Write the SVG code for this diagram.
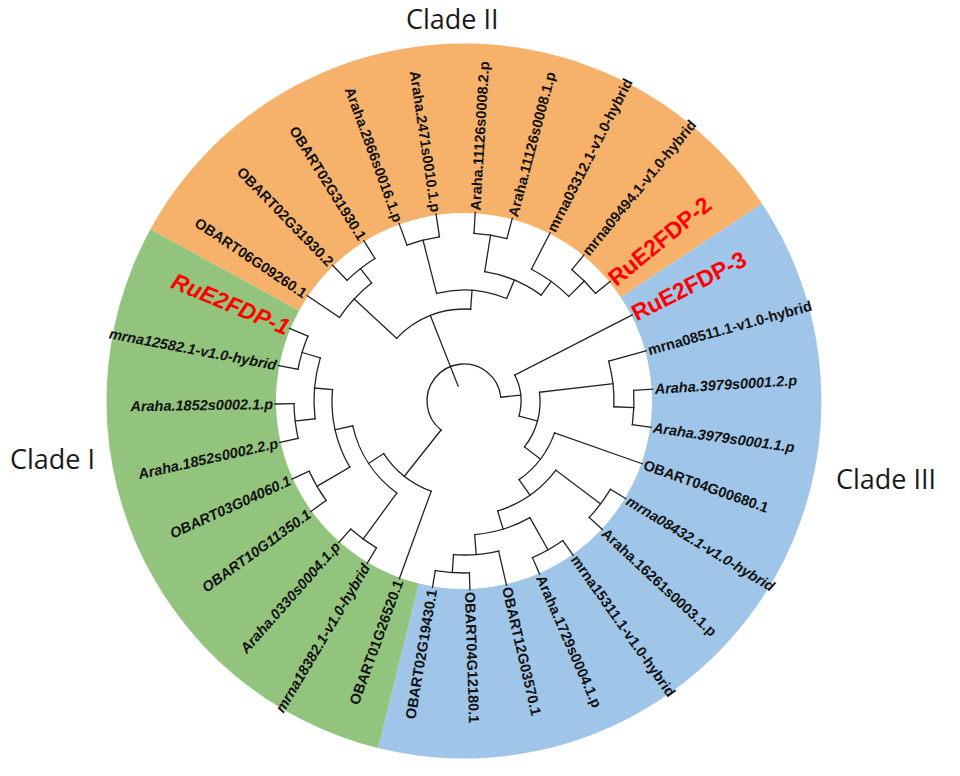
<svg xmlns="http://www.w3.org/2000/svg" width="960" height="776" viewBox="0 0 960 776">
<style>
.s1{fill:#93c47d}.s2{fill:#f6b26b}.s3{fill:#9fc5e8}
.br{fill:none;stroke:#222;stroke-width:1.3;stroke-linecap:square}
.lb{font-family:"Liberation Sans",Arial,sans-serif;font-size:14.5px;font-weight:bold;fill:#111}
.bi{font-style:italic}
.red{font-size:23px;font-weight:bold;fill:#ff0000}
.clade{font-family:"Open Sans","Liberation Sans",sans-serif;font-size:27px;fill:#1a1a1a}
</style>
<rect width="960" height="776" fill="#fff"/>
<g id="sectors">
<path id="sector-clade2" class="s2" d="M299.1 310.7L150.4 229.3A357.5 357.5 0 0 1 762.1 203.7L620.8 297.2A188 188 0 0 0 299.1 310.7Z"/>
<path id="sector-clade3" class="s3" d="M620.8 297.2L762.1 203.7A357.5 357.5 0 0 1 378.1 748.0L418.8 583.5A188 188 0 0 0 620.8 297.2Z"/>
<path id="sector-clade1" class="s1" d="M418.8 583.5L378.1 748.0A357.5 357.5 0 0 1 150.4 229.3L299.1 310.7A188 188 0 0 0 418.8 583.5Z"/>
</g>
<g id="connectors" class="br" transform="translate(464 401)">
<circle r="37" pathLength="360" stroke-dasharray="225.7 400" transform="rotate(128.4)"/>
<circle r="96" pathLength="360" stroke-dasharray="36.8 400" transform="rotate(110)"/>
<circle r="114" pathLength="360" stroke-dasharray="41.25 400" transform="rotate(126.15)"/>
<circle r="132" pathLength="360" stroke-dasharray="35.05 400" transform="rotate(149.9)"/>
<circle r="150" pathLength="360" stroke-dasharray="23.5 400" transform="rotate(173.2)"/>
<circle r="170" pathLength="360" stroke-dasharray="11.8 400" transform="rotate(167.3)"/>
<circle r="169" pathLength="360" stroke-dasharray="11.8 400" transform="rotate(190.8)"/>
<circle r="170" pathLength="360" stroke-dasharray="11.4 400" transform="rotate(144.2)"/>
<circle r="171" pathLength="360" stroke-dasharray="10.7 400" transform="rotate(120.8)"/>
<circle r="92" pathLength="360" stroke-dasharray="51.25 400" transform="rotate(222.9)"/>
<circle r="150" pathLength="360" stroke-dasharray="18.05 400" transform="rotate(213.9)"/>
<circle r="168" pathLength="360" stroke-dasharray="12.1 400" transform="rotate(225.9)"/>
<circle r="111" pathLength="360" stroke-dasharray="36.9 400" transform="rotate(255.7)"/>
<circle r="166" pathLength="360" stroke-dasharray="11.6 400" transform="rotate(249.9)"/>
<circle r="131" pathLength="360" stroke-dasharray="27 400" transform="rotate(279.1)"/>
<circle r="168" pathLength="360" stroke-dasharray="11.4 400" transform="rotate(273.4)"/>
<circle r="148" pathLength="360" stroke-dasharray="17.95 400" transform="rotate(297.1)"/>
<circle r="170" pathLength="360" stroke-dasharray="11.3 400" transform="rotate(309.4)"/>
<circle r="57" pathLength="360" stroke-dasharray="42.4 400" transform="rotate(332.9)"/>
<circle r="76" pathLength="360" stroke-dasharray="43.8 400" transform="rotate(353.4)"/>
<circle r="150" pathLength="360" stroke-dasharray="17.6 400" transform="rotate(344.6)"/>
<circle r="170" pathLength="360" stroke-dasharray="11.6 400" transform="rotate(356.4)"/>
<circle r="96" pathLength="360" stroke-dasharray="35.6 400" transform="rotate(19.4)"/>
<circle r="115" pathLength="360" stroke-dasharray="36 400" transform="rotate(37)"/>
<circle r="171" pathLength="360" stroke-dasharray="11.8 400" transform="rotate(31.1)"/>
<circle r="134" pathLength="360" stroke-dasharray="24.9 400" transform="rotate(60.55)"/>
<circle r="171" pathLength="360" stroke-dasharray="11.7 400" transform="rotate(54.7)"/>
<circle r="154" pathLength="360" stroke-dasharray="16.9 400" transform="rotate(77)"/>
<circle r="172" pathLength="360" stroke-dasharray="11.4 400" transform="rotate(88.2)"/>
<path d="M16 0H37" transform="rotate(248.5)"/>
<path d="M37 0H96" transform="rotate(128.4)"/>
<path d="M96 0H114" transform="rotate(146.8)"/>
<path d="M114 0H132" transform="rotate(167.4)"/>
<path d="M132 0H150" transform="rotate(184.95)"/>
<path d="M150 0H170" transform="rotate(173.2)"/>
<path d="M150 0H169" transform="rotate(196.7)"/>
<path d="M132 0H170" transform="rotate(149.9)"/>
<path d="M114 0H171" transform="rotate(126.15)"/>
<path d="M37 0H92" transform="rotate(248.5)"/>
<path d="M92 0H150" transform="rotate(222.9)"/>
<path d="M150 0H168" transform="rotate(231.95)"/>
<path d="M92 0H111" transform="rotate(274.15)"/>
<path d="M111 0H166" transform="rotate(255.7)"/>
<path d="M111 0H131" transform="rotate(292.6)"/>
<path d="M131 0H168" transform="rotate(279.1)"/>
<path d="M131 0H148" transform="rotate(306.1)"/>
<path d="M148 0H170" transform="rotate(315.05)"/>
<path d="M37 0H57" transform="rotate(354.1)"/>
<path d="M57 0H76" transform="rotate(15.3)"/>
<path d="M76 0H150" transform="rotate(353.4)"/>
<path d="M150 0H170" transform="rotate(2.2)"/>
<path d="M76 0H96" transform="rotate(37.2)"/>
<path d="M96 0H115" transform="rotate(55)"/>
<path d="M115 0H171" transform="rotate(37)"/>
<path d="M115 0H134" transform="rotate(73)"/>
<path d="M134 0H171" transform="rotate(60.55)"/>
<path d="M134 0H154" transform="rotate(85.45)"/>
<path d="M154 0H172" transform="rotate(93.9)"/>
<path d="M150 0H189" transform="rotate(213.9)"/>
<path d="M168 0H189" transform="rotate(225.9)"/>
<path d="M168 0H189" transform="rotate(238)"/>
<path d="M166 0H189" transform="rotate(249.9)"/>
<path d="M166 0H189" transform="rotate(261.5)"/>
<path d="M168 0H189" transform="rotate(273.4)"/>
<path d="M168 0H189" transform="rotate(284.8)"/>
<path d="M148 0H189" transform="rotate(297.1)"/>
<path d="M170 0H189" transform="rotate(309.4)"/>
<path d="M170 0H189" transform="rotate(320.7)"/>
<path d="M57 0H189" transform="rotate(332.9)"/>
<path d="M150 0H189" transform="rotate(344.6)"/>
<path d="M170 0H189" transform="rotate(356.4)"/>
<path d="M170 0H189" transform="rotate(8)"/>
<path d="M96 0H189" transform="rotate(19.4)"/>
<path d="M171 0H189" transform="rotate(31.1)"/>
<path d="M171 0H189" transform="rotate(42.9)"/>
<path d="M171 0H189" transform="rotate(54.7)"/>
<path d="M171 0H189" transform="rotate(66.4)"/>
<path d="M154 0H189" transform="rotate(77)"/>
<path d="M172 0H189" transform="rotate(88.2)"/>
<path d="M172 0H189" transform="rotate(99.6)"/>
<path d="M96 0H189" transform="rotate(110)"/>
<path d="M171 0H189" transform="rotate(120.8)"/>
<path d="M171 0H189" transform="rotate(131.5)"/>
<path d="M170 0H189" transform="rotate(144.2)"/>
<path d="M170 0H189" transform="rotate(155.6)"/>
<path d="M170 0H189" transform="rotate(167.3)"/>
<path d="M170 0H189" transform="rotate(179.1)"/>
<path d="M169 0H189" transform="rotate(190.8)"/>
<path d="M169 0H189" transform="rotate(202.6)"/>
</g>
<g id="leaves" class="lb" transform="translate(464 401)">
<g id="leaf-OBART06G09260-1"><text transform="rotate(213.9) translate(191 0) rotate(180)" text-anchor="end" dy=".35em">OBART06G09260.1</text></g>
<g id="leaf-OBART02G31930-2"><text transform="rotate(225.9) translate(191 0) rotate(180)" text-anchor="end" dy=".35em">OBART02G31930.2</text></g>
<g id="leaf-OBART02G31930-1"><text transform="rotate(238) translate(191 0) rotate(180)" text-anchor="end" dy=".35em">OBART02G31930.1</text></g>
<g id="leaf-Araha-2866s0016-1-p"><text transform="rotate(249.9) translate(191 0) rotate(180)" text-anchor="end" dy=".35em">Araha.2866s0016.1.p</text></g>
<g id="leaf-Araha-2471s0010-1-p"><text transform="rotate(261.5) translate(191 0) rotate(180)" text-anchor="end" dy=".35em">Araha.2471s0010.1.p</text></g>
<g id="leaf-Araha-11126s0008-2-p"><text transform="rotate(273.4) translate(191 0)" dy=".35em">Araha.11126s0008.2.p</text></g>
<g id="leaf-Araha-11126s0008-1-p"><text transform="rotate(284.8) translate(191 0)" dy=".35em">Araha.11126s0008.1.p</text></g>
<g id="leaf-mrna03312"><text transform="rotate(297.1) translate(191 0)" dy=".35em">mrna03312.1-v1.0-hybrid</text></g>
<g id="leaf-mrna09494"><text transform="rotate(309.4) translate(191 0)" dy=".35em">mrna09494.1-v1.0-hybrid</text></g>
<g id="leaf-RuE2FDP-2"><text class="red" transform="rotate(320.7) translate(190 0)" dy=".35em">RuE2FDP-2</text></g>
<g id="leaf-RuE2FDP-3"><text class="red" transform="rotate(332.9) translate(190 0)" dy=".35em">RuE2FDP-3</text></g>
<g id="leaf-mrna08511"><text transform="rotate(344.6) translate(191 0)" dy=".35em">mrna08511.1-v1.0-hybrid</text></g>
<g id="leaf-Araha-3979s0001-2-p"><text class="bi" transform="rotate(356.4) translate(191 0)" dy=".35em">Araha.3979s0001.2.p</text></g>
<g id="leaf-Araha-3979s0001-1-p"><text class="bi" transform="rotate(8) translate(191 0)" dy=".35em">Araha.3979s0001.1.p</text></g>
<g id="leaf-OBART04G00680-1"><text transform="rotate(19.4) translate(191 0)" dy=".35em">OBART04G00680.1</text></g>
<g id="leaf-mrna08432"><text class="bi" transform="rotate(31.1) translate(191 0)" dy=".35em">mrna08432.1-v1.0-hybrid</text></g>
<g id="leaf-Araha-16261s0003-1-p"><text transform="rotate(42.9) translate(191 0)" dy=".35em">Araha.16261s0003.1.p</text></g>
<g id="leaf-mrna15311"><text transform="rotate(54.7) translate(191 0)" dy=".35em">mrna15311.1-v1.0-hybrid</text></g>
<g id="leaf-Araha-1729s0004-1-p"><text transform="rotate(66.4) translate(191 0)" dy=".35em">Araha.1729s0004.1.p</text></g>
<g id="leaf-OBART12G03570-1"><text transform="rotate(77) translate(191 0)" dy=".35em">OBART12G03570.1</text></g>
<g id="leaf-OBART04G12180-1"><text transform="rotate(88.2) translate(191 0)" dy=".35em">OBART04G12180.1</text></g>
<g id="leaf-OBART02G19430-1"><text transform="rotate(99.6) translate(191 0) rotate(180)" text-anchor="end" dy=".35em">OBART02G19430.1</text></g>
<g id="leaf-OBART01G26520-1"><text transform="rotate(110) translate(191 0) rotate(180)" text-anchor="end" dy=".35em">OBART01G26520.1</text></g>
<g id="leaf-mrna18382"><text class="bi" transform="rotate(120.8) translate(191 0) rotate(180)" text-anchor="end" dy=".35em">mrna18382.1-v1.0-hybrid</text></g>
<g id="leaf-Araha-0330s0004-1-p"><text class="bi" transform="rotate(131.5) translate(191 0) rotate(180)" text-anchor="end" dy=".35em">Araha.0330s0004.1.p</text></g>
<g id="leaf-OBART10G11350-1"><text class="bi" transform="rotate(144.2) translate(191 0) rotate(180)" text-anchor="end" dy=".35em">OBART10G11350.1</text></g>
<g id="leaf-OBART03G04060-1"><text class="bi" transform="rotate(155.6) translate(191 0) rotate(180)" text-anchor="end" dy=".35em">OBART03G04060.1</text></g>
<g id="leaf-Araha-1852s0002-2-p"><text class="bi" transform="rotate(167.3) translate(191 0) rotate(180)" text-anchor="end" dy=".35em">Araha.1852s0002.2.p</text></g>
<g id="leaf-Araha-1852s0002-1-p"><text class="bi" transform="rotate(179.1) translate(191 0) rotate(180)" text-anchor="end" dy=".35em">Araha.1852s0002.1.p</text></g>
<g id="leaf-mrna12582"><text class="bi" transform="rotate(190.8) translate(191 0) rotate(180)" text-anchor="end" dy=".35em">mrna12582.1-v1.0-hybrid</text></g>
<g id="leaf-RuE2FDP-1"><text class="red" font-style="italic" transform="rotate(202.6) translate(190 0) rotate(180)" text-anchor="end" dy=".35em">RuE2FDP-1</text></g>
</g>
<g id="clade-labels">
<text class="clade" x="10" y="469">Clade I</text>
<text class="clade" x="406" y="28.5">Clade II</text>
<text class="clade" x="836" y="489">Clade III</text>
</g>
</svg>
